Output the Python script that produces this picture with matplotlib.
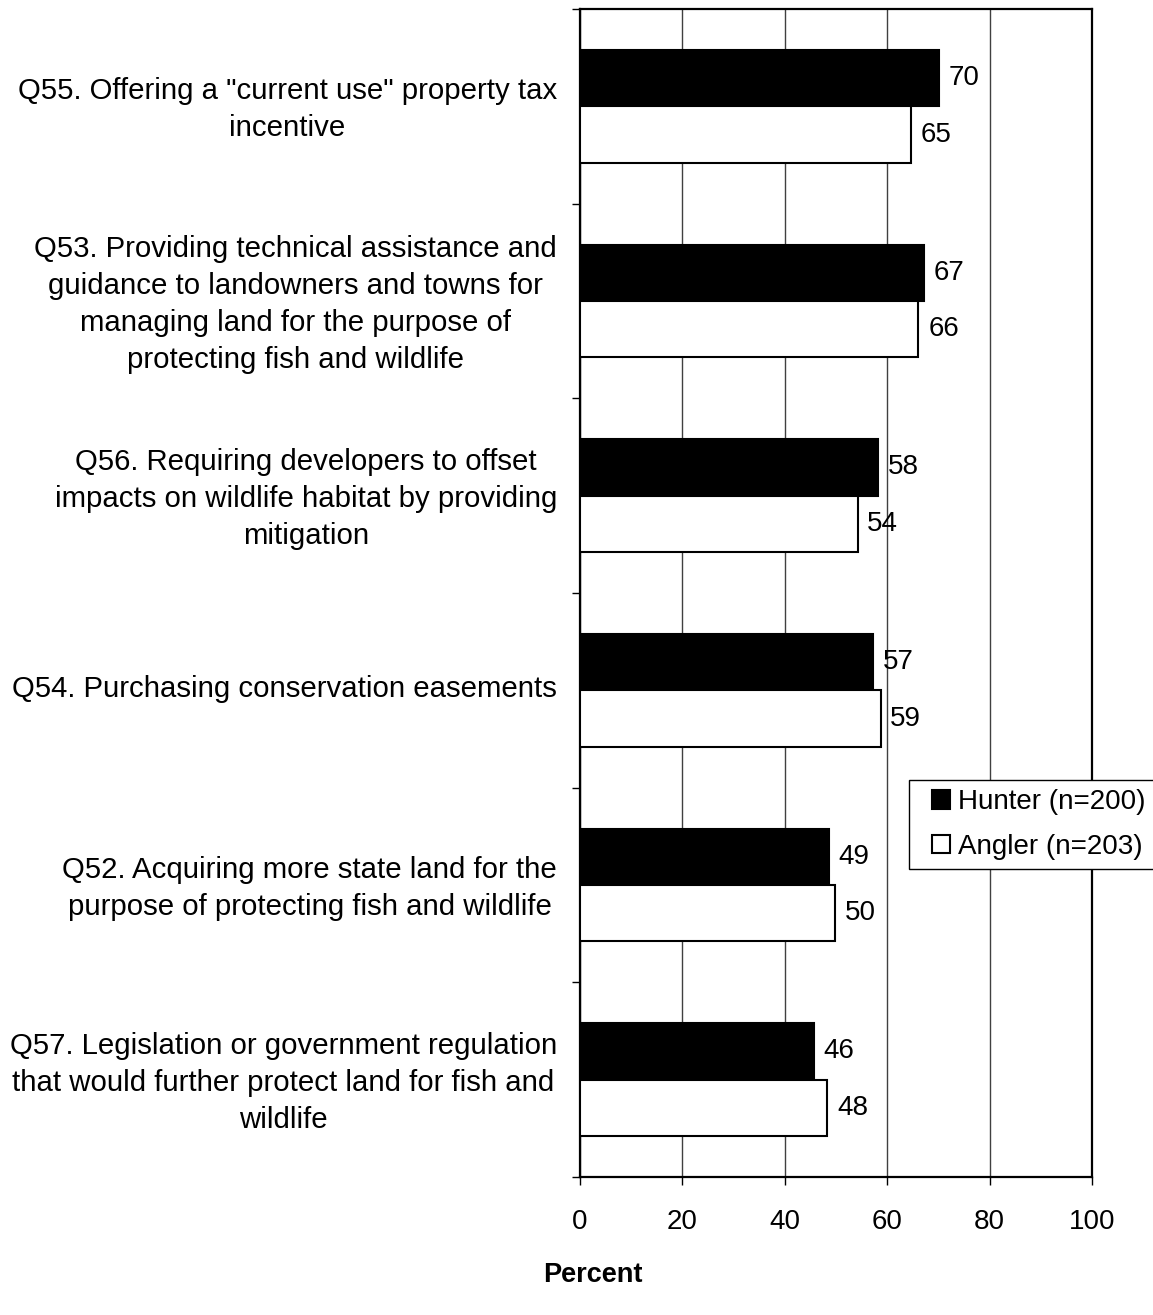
import matplotlib
matplotlib.use("Agg")
import matplotlib.pyplot as plt
import numpy as np
from matplotlib.ticker import FixedLocator
from matplotlib.patches import Rectangle
from matplotlib.container import BarContainer
from matplotlib.legend_handler import HandlerPatch, update_from_first_child

plt.rcParams['font.family'] = ['Liberation Sans', 'DejaVu Sans']

categories = [
    'Q55. Offering a "current use" property tax\nincentive',
    'Q53. Providing technical assistance and\nguidance to landowners and towns for\nmanaging land for the purpose of\nprotecting fish and wildlife',
    'Q56. Requiring developers to offset\nimpacts on wildlife habitat by providing\nmitigation',
    'Q54. Purchasing conservation easements',
    'Q52. Acquiring more state land for the\npurpose of protecting fish and wildlife',
    'Q57. Legislation or government regulation\nthat would further protect land for fish and\nwildlife',
]
hunter = [70.1, 67.2, 58.2, 57.2, 48.6, 45.7]
angler = [64.6, 66.1, 54.2, 58.7, 49.9, 48.3]
series_names = ['Hunter (n=200)', 'Angler (n=203)']
xticks = [0, 20, 40, 60, 80, 100]

W, H = 1153, 1315
fig = plt.figure(figsize=(W / 100, H / 100), dpi=100)
ax = fig.add_axes([580 / W, 1 - 1177 / H, (1092 - 580) / W, (1177 - 9) / H])

n = len(categories)
y = np.arange(n)
bh = 0.29
b1 = ax.barh(y - bh / 2, hunter, height=bh, color='black', edgecolor='black',
             linewidth=1.5, label=series_names[0], zorder=3)
b2 = ax.barh(y + bh / 2, angler, height=bh, color='white', edgecolor='black',
             linewidth=1.5, label=series_names[1], zorder=3)

for bars, vals in ((b1, hunter), (b2, angler)):
    for rect, v in zip(bars, vals):
        ax.annotate(f"{v:.0f}", xy=(v, rect.get_y() + rect.get_height() / 2),
                    xytext=(7, 0), textcoords='offset points',
                    ha='left', va='center', fontsize=20, zorder=4)

ax.set_xlim(0, 100)
ax.set_ylim(n - 0.5, -0.5)
ax.set_xticks(xticks)
ax.set_xticklabels([str(t) for t in xticks])
ax.xaxis.grid(True, color='#404040', linewidth=1, zorder=0)
ax.set_axisbelow(True)

ax.yaxis.set_major_locator(FixedLocator(np.arange(-0.5, n, 1.0)))
ax.yaxis.set_minor_locator(FixedLocator(y - 0.02))
ax.set_yticklabels([], minor=False)
ax.set_yticklabels(categories, minor=True, fontsize=21.2, ha='right',
                   multialignment='center', linespacing=1.4)
ax.tick_params(axis='y', which='major', length=6, width=1, direction='out')
ax.tick_params(axis='y', which='minor', length=0, pad=16.5)
ax.tick_params(axis='x', which='major', length=6, width=1, direction='out',
               labelsize=20, pad=17)

for s in ax.spines.values():
    s.set_linewidth(1.6)
    s.set_color('black')


def square_patch(legend, orig_handle, xdescent, ydescent, width, height, fontsize):
    return Rectangle((-xdescent + width - height, -ydescent), height, height)


fs_px = 20 * 100 / 72
leg = ax.legend(loc='upper left', bbox_to_anchor=(909 / W, 1 - 780 / H),
                bbox_transform=fig.transFigure, borderaxespad=0,
                fontsize=20, frameon=True, fancybox=False, framealpha=1,
                edgecolor='black', handlelength=(41 - 9) / fs_px,
                handleheight=18 / fs_px, handletextpad=8 / fs_px,
                borderpad=0.34, labelspacing=0.66,
                handler_map={BarContainer: HandlerPatch(
                    patch_func=square_patch,
                    update_func=update_from_first_child)})
leg.get_frame().set_linewidth(1)
leg.set_zorder(10)

fig.text(593 / W, 1 - 1275 / H, 'Percent', ha='center', va='center',
         fontsize=19.5, fontweight='bold')

fig.savefig('out.png', dpi=100, facecolor='white')
